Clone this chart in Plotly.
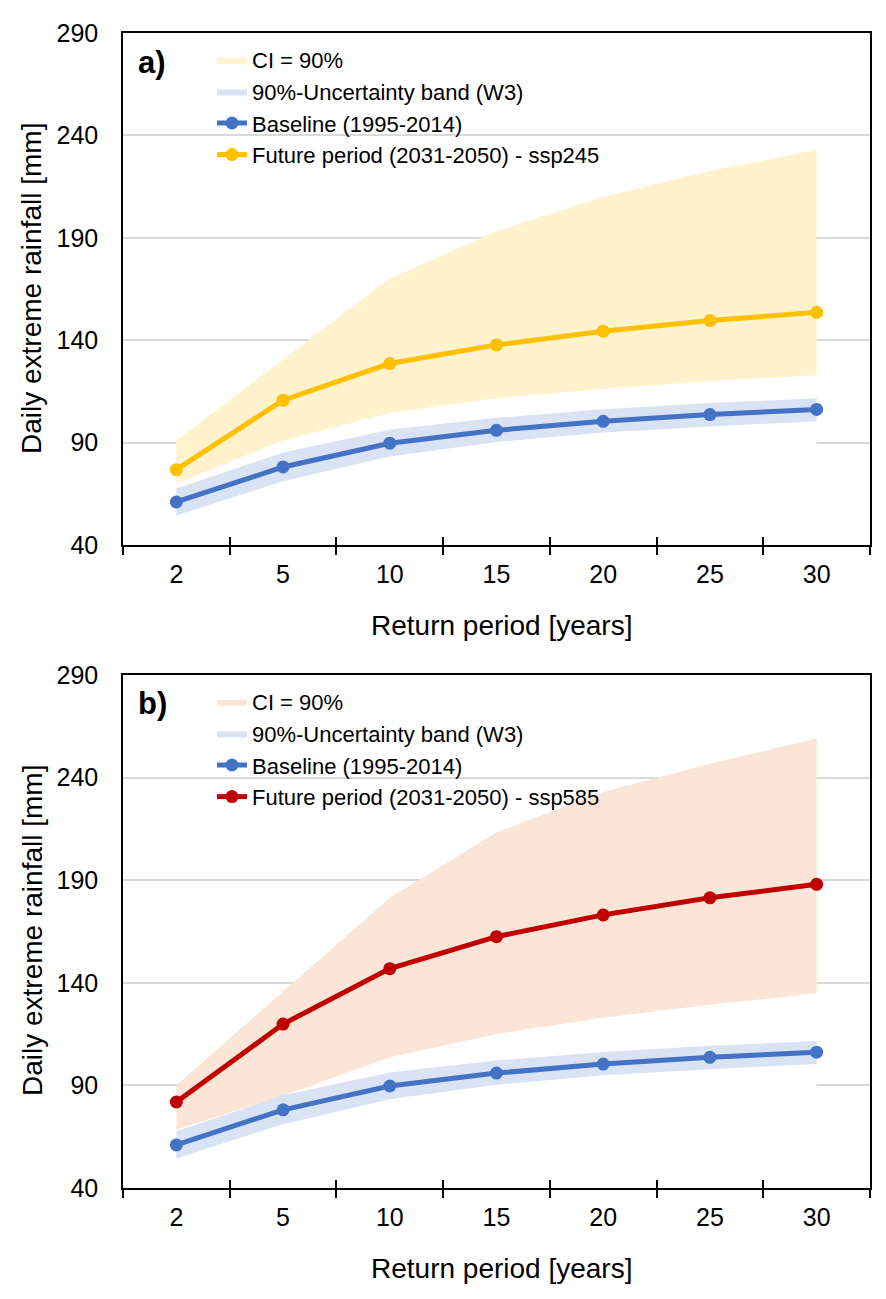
import plotly.graph_objects as go

# ---------------- data ----------------
return_periods = ["2", "5", "10", "15", "20", "25", "30"]

baseline = [61.0, 78.1, 89.7, 96.0, 100.4, 103.7, 106.2]
baseline_band_lo = [54.4, 71.1, 83.2, 90.3, 94.9, 97.9, 100.4]
baseline_band_hi = [67.6, 85.2, 96.3, 102.1, 106.3, 109.3, 111.6]

ssp245 = [76.8, 110.7, 128.6, 137.7, 144.4, 149.6, 153.6]
ssp245_ci_lo = [70.1, 91.1, 104.6, 111.6, 116.3, 120.0, 123.0]
ssp245_ci_hi = [91.1, 130.5, 170.1, 193.2, 210.0, 222.6, 233.0]

ssp585 = [81.9, 119.9, 146.9, 162.5, 173.1, 181.4, 188.0]
ssp585_ci_lo = [68.5, 85.0, 103.7, 115.0, 123.0, 129.3, 134.8]
ssp585_ci_hi = [90.1, 135.6, 181.5, 213.3, 233.0, 246.7, 259.0]

# ---------------- styles ----------------
FONT = "Liberation Sans, Arial, sans-serif"
BLUE = "#4472C4"
BLUE_BAND = "#DAE3F3"
YELLOW = "#FFC000"
YELLOW_CI = "#FFF2CC"
RED = "#C00000"
RED_CI = "#FBE5D6"

panels = [
    dict(xa="x", ya="y", xt="x3", legend="legend", fut=ssp245, lo=ssp245_ci_lo,
         hi=ssp245_ci_hi, col=YELLOW, ci=YELLOW_CI,
         name="Future period (2031-2050) - ssp245"),
    dict(xa="x2", ya="y2", xt="x4", legend="legend2", fut=ssp585, lo=ssp585_ci_lo,
         hi=ssp585_ci_hi, col=RED, ci=RED_CI,
         name="Future period (2031-2050) - ssp585"),
]

fig = go.Figure()
for p in panels:
    # white base area (hides gridlines below the bands, like Excel stacked areas)
    fig.add_trace(go.Scatter(x=return_periods, y=p["lo"], mode="lines", line=dict(width=0),
                             fill="tozeroy", fillcolor="white", showlegend=False,
                             hoverinfo="skip", xaxis=p["xa"], yaxis=p["ya"]))
    fig.add_trace(go.Scatter(x=return_periods + return_periods[::-1],
                             y=p["hi"] + p["lo"][::-1], mode="lines", line=dict(width=0),
                             fill="toself", fillcolor=p["ci"], name="CI = 90%",
                             legend=p["legend"], xaxis=p["xa"], yaxis=p["ya"]))
    fig.add_trace(go.Scatter(x=return_periods + return_periods[::-1],
                             y=baseline_band_hi + baseline_band_lo[::-1], mode="lines",
                             line=dict(width=0), fill="toself", fillcolor=BLUE_BAND,
                             name="90%-Uncertainty band (W3)", legend=p["legend"],
                             xaxis=p["xa"], yaxis=p["ya"]))
    fig.add_trace(go.Scatter(x=return_periods, y=baseline, mode="lines+markers",
                             line=dict(color=BLUE, width=5), marker=dict(size=13, color=BLUE),
                             name="Baseline (1995-2014)", legend=p["legend"],
                             xaxis=p["xa"], yaxis=p["ya"]))
    fig.add_trace(go.Scatter(x=return_periods, y=p["fut"], mode="lines+markers",
                             line=dict(color=p["col"], width=5),
                             marker=dict(size=13, color=p["col"]),
                             name=p["name"], legend=p["legend"],
                             xaxis=p["xa"], yaxis=p["ya"]))
    # invisible trace carrying the overlay axis that draws the upper half of crossing ticks
    fig.add_trace(go.Scatter(x=return_periods, y=baseline, mode="lines",
                             line=dict(width=0), opacity=0, showlegend=False,
                             hoverinfo="skip", xaxis=p["xt"], yaxis=p["ya"]))

W, H = 886, 1299
L, R = 123, 16
PW = W - L - R


def px_x(px):
    return (px - L) / PW


def px_y(py):
    return 1 - py / H


xaxis_common = dict(type="category", categoryorder="array", categoryarray=return_periods,
                    range=[-0.5, 6.5], tickson="boundaries", ticks="outside", ticklen=8,
                    tickwidth=1.5, tickcolor="black", showline=True, linecolor="black",
                    linewidth=1.5, mirror=True, showgrid=False, zeroline=False,
                    automargin=False,
                    tickfont=dict(family=FONT, size=25, color="black"),
                    ticklabelstandoff=6)
xaxis_cross = dict(type="category", categoryorder="array", categoryarray=return_periods,
                   range=[-0.5, 6.5], tickson="boundaries", ticks="inside", ticklen=8,
                   tickwidth=1.5, tickcolor="black", showline=False, showgrid=False,
                   zeroline=False, showticklabels=False, automargin=False, side="bottom")
yaxis_common = dict(range=[40, 290], tick0=40, dtick=50, showgrid=True, gridcolor="#D9D9D9",
                    gridwidth=1.5, showline=True, linecolor="black", linewidth=1.5,
                    mirror=True, zeroline=False, ticks="", automargin=False,
                    tickfont=dict(family=FONT, size=25, color="black"),
                    ticklabelstandoff=18)

legend_common = dict(bgcolor="rgba(0,0,0,0)", font=dict(family=FONT, size=22, color="black"),
                     xanchor="left", yanchor="top", tracegroupgap=0, itemwidth=30,
                     borderwidth=0)

fig.update_layout(
    template="none",
    width=W, height=H,
    margin=dict(l=L, r=R, t=0, b=0, pad=0),
    paper_bgcolor="white", plot_bgcolor="white",
    font=dict(family=FONT, color="black"),
    xaxis=dict(domain=[0, 1], anchor="y", **xaxis_common),
    yaxis=dict(domain=[px_y(545), px_y(33)], anchor="x", **yaxis_common),
    xaxis2=dict(domain=[0, 1], anchor="y2", **xaxis_common),
    yaxis2=dict(domain=[px_y(1188), px_y(675)], anchor="x2", **yaxis_common),
    xaxis3=dict(overlaying="x", anchor="y", **xaxis_cross),
    xaxis4=dict(overlaying="x2", anchor="y2", **xaxis_cross),
    legend=dict(x=px_x(212), y=px_y(39), **legend_common),
    legend2=dict(x=px_x(212), y=px_y(681), **legend_common),
    showlegend=True,
)

annos = [
    dict(text="<b>a)</b>", x=px_x(136), y=px_y(62), xanchor="left", yanchor="middle",
         font=dict(size=31)),
    dict(text="<b>b)</b>", x=px_x(136), y=px_y(704), xanchor="left", yanchor="middle",
         font=dict(size=31)),
    dict(text="Daily extreme rainfall [mm]", x=px_x(32), y=px_y(289), textangle=-90,
         xanchor="center", yanchor="middle", font=dict(size=28)),
    dict(text="Daily extreme rainfall [mm]", x=px_x(32), y=px_y(931), textangle=-90,
         xanchor="center", yanchor="middle", font=dict(size=28)),
    dict(text="Return period [years]", x=px_x(501), y=px_y(625), xanchor="center",
         yanchor="middle", font=dict(size=28)),
    dict(text="Return period [years]", x=px_x(501), y=px_y(1268), xanchor="center",
         yanchor="middle", font=dict(size=28)),
]
for a in annos:
    a.update(xref="paper", yref="paper", showarrow=False)
    a["font"].update(family=FONT, color="black")
fig.update_layout(annotations=annos)

fig.write_html("out.html", config={"displayModeBar": False},
               post_script="document.body.style.margin='0';")
